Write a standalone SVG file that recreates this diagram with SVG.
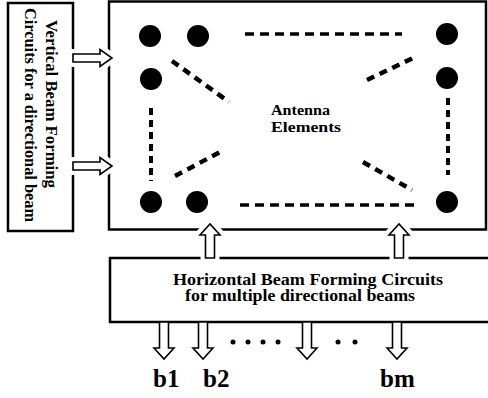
<svg xmlns="http://www.w3.org/2000/svg" xmlns:xlink="http://www.w3.org/1999/xlink" width="488" height="398" viewBox="0 0 488 398">
<style>
.box{fill:#fff;stroke:#000;stroke-width:2.5}
.halo{fill:#fff;stroke:#fff;stroke-width:10}
.arr{fill:#fff;stroke:#000;stroke-width:1.6;stroke-linejoin:miter}
.el{fill:#000}
.dh{stroke:#000;stroke-width:3.5;stroke-dasharray:9 6;fill:none}
.dv{stroke:#000;stroke-width:4;stroke-dasharray:7 5;fill:none}
.dd{stroke:#000;stroke-width:4.5;stroke-dasharray:8 6;fill:none}
.t{font-family:"Liberation Serif","Times New Roman",serif;font-weight:bold;fill:#000}
</style>
<defs>
<path id="dn" d="M-4.5,322 V348 H-10 L0,359 L10,348 H4.5 V322 Z"/>
<path id="up" d="M-4.5,258 V235 H-10 L0,224 L10,235 H4.5 V258 Z"/>
<path id="rt" d="M73,-4 H100 V-8.5 L112,0 L100,8.5 V4 H73 Z"/>
</defs>
<rect id="bg" x="0" y="0" width="488" height="398" fill="#fff"/>
<g id="vertical-bf">
<rect class="box" x="8" y="3" width="65" height="228"/>
<text class="t" font-size="16" transform="translate(46,20) rotate(90)" textLength="168" lengthAdjust="spacingAndGlyphs">Vertical Beam Forming</text>
<text class="t" font-size="16" transform="translate(25,8) rotate(90)" textLength="214" lengthAdjust="spacingAndGlyphs">Circuits for a directional beam</text>
</g>
<g id="antenna-array">
<rect class="box" x="109" y="1.5" width="377" height="228"/>
<circle class="el" cx="150" cy="36" r="11"/>
<circle class="el" cx="198" cy="36" r="11"/>
<circle class="el" cx="151" cy="79" r="11"/>
<circle class="el" cx="151" cy="202" r="11"/>
<circle class="el" cx="197" cy="202" r="11"/>
<circle class="el" cx="447" cy="34" r="11"/>
<circle class="el" cx="447" cy="78" r="11"/>
<circle class="el" cx="447" cy="202" r="11"/>
<line class="dh" x1="245" y1="34" x2="402" y2="34"/>
<line class="dh" x1="240" y1="205" x2="414" y2="205"/>
<line class="dv" x1="151" y1="108" x2="151" y2="181"/>
<line class="dv" x1="448" y1="98" x2="448" y2="175"/>
<line class="dd" x1="172" y1="61" x2="229" y2="102"/>
<line class="dd" x1="175" y1="176" x2="224" y2="150"/>
<line class="dd" x1="367" y1="80" x2="413" y2="58"/>
<line class="dd" x1="363" y1="162" x2="412" y2="190"/>
<text class="t" font-size="15.5" x="271" y="115" textLength="59" lengthAdjust="spacingAndGlyphs">Antenna</text>
<text class="t" font-size="15.5" x="271" y="132" textLength="70" lengthAdjust="spacingAndGlyphs">Elements</text>
</g>
<g id="horizontal-bf">
<rect class="box" x="110" y="258" width="380" height="64"/>
<text class="t" font-size="16" x="173" y="285" textLength="270" lengthAdjust="spacingAndGlyphs">Horizontal Beam Forming Circuits</text>
<text class="t" font-size="16" x="185" y="300.5" textLength="230" lengthAdjust="spacingAndGlyphs">for multiple directional beams</text>
</g>
<g id="connectors">
<use href="#rt" xlink:href="#rt" class="halo" y="58"/>
<use href="#rt" xlink:href="#rt" class="arr" y="58"/>
<use href="#rt" xlink:href="#rt" class="halo" y="166"/>
<use href="#rt" xlink:href="#rt" class="arr" y="166"/>
<use href="#up" xlink:href="#up" class="halo" x="210"/>
<use href="#up" xlink:href="#up" class="arr" x="210"/>
<use href="#up" xlink:href="#up" class="halo" x="399"/>
<use href="#up" xlink:href="#up" class="arr" x="399"/>
<use href="#dn" xlink:href="#dn" class="arr" x="164"/>
<use href="#dn" xlink:href="#dn" class="arr" x="203"/>
<use href="#dn" xlink:href="#dn" class="arr" x="307"/>
<use href="#dn" xlink:href="#dn" class="arr" x="397"/>
</g>
<g id="outputs">
<circle class="el" cx="233" cy="342" r="2.5"/>
<circle class="el" cx="248" cy="342" r="2.5"/>
<circle class="el" cx="263" cy="342" r="2.5"/>
<circle class="el" cx="278" cy="342" r="2.5"/>
<circle class="el" cx="338" cy="342" r="2.5"/>
<circle class="el" cx="355" cy="342" r="2.5"/>
<text class="t" font-size="25" x="153" y="387">b1</text>
<text class="t" font-size="25" x="203" y="387">b2</text>
<text class="t" font-size="25" x="380" y="387">bm</text>
</g>
</svg>
